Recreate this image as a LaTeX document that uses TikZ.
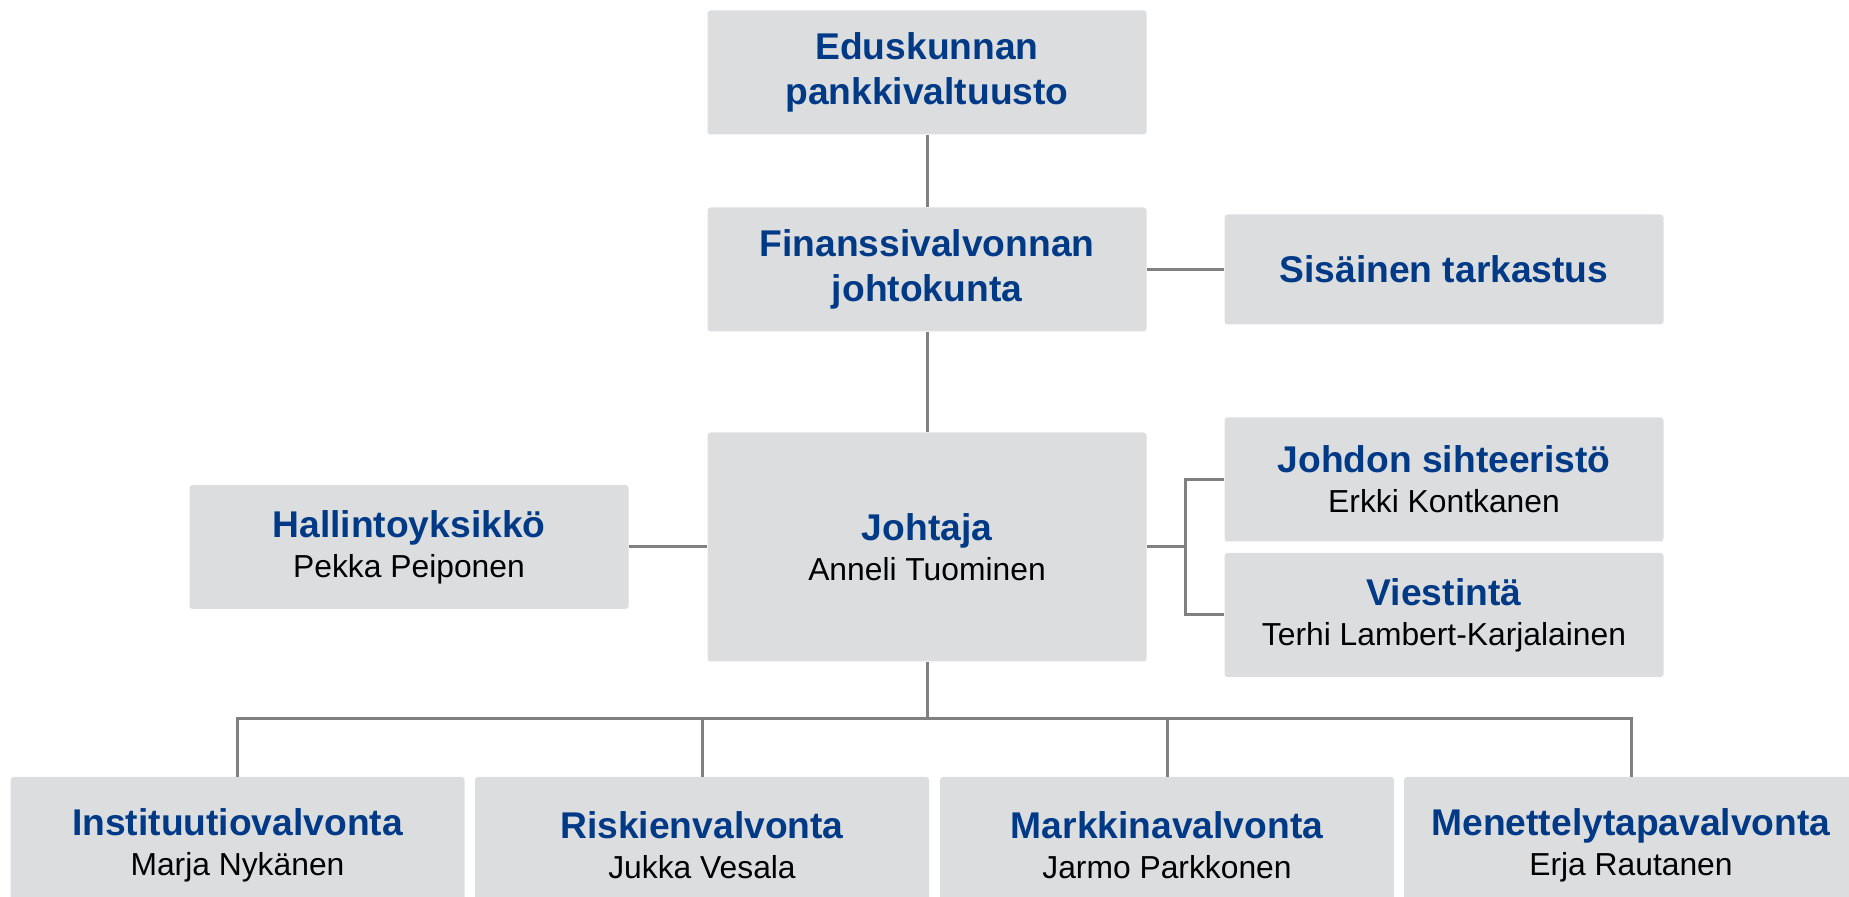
\documentclass[tikz,border=0pt]{standalone}
\usepackage{fontspec}
\setmainfont{Liberation Sans}
\definecolor{fiblue}{RGB}{0,58,135}
\definecolor{boxgray}{RGB}{220,221,223}
\definecolor{linegray}{RGB}{128,128,128}
\newcommand\orgtitle[1]{{\fontsize{18.6}{20}\selectfont\bfseries\color{fiblue}#1}}
\begin{document}
\begin{tikzpicture}[x=0.5pt,y=-0.5pt,
  orgbox/.style={fill=boxgray, rounded corners=1.5pt, inner sep=0pt, align=center,
    minimum width=219.5pt, minimum height=62pt, font=\fontsize{15.9}{20}\selectfont},
  twotitle/.style={orgbox, font=\fontsize{15.9}{22.2}\selectfont},
  wideorg/.style={orgbox, minimum width=227pt, minimum height=68pt},
  conn/.style={draw=linegray, line width=1.5pt}]
\useasboundingbox (0,0) rectangle (1849,897);
\clip (0,0) rectangle (1849,897);

\node[twotitle] (edus) at (927,72.5) {\orgtitle{Eduskunnan}\\\orgtitle{pankkivaltuusto}};
\node[twotitle] (fin) at (927,269.5) {\orgtitle{Finanssivalvonnan}\\\orgtitle{johtokunta}};
\node[orgbox, minimum height=55pt] (sis) at (1444,269.5) {\orgtitle{Sisäinen tarkastus}};
\node[orgbox] (hal) at (409,547) {\orgtitle{Hallintoyksikkö}\\Pekka Peiponen};
\node[orgbox, minimum height=114.5pt] (joh) at (927,547) {\orgtitle{Johtaja}\\Anneli Tuominen};
\node[orgbox] (sih) at (1444,479.5) {\orgtitle{Johdon sihteeristö}\\Erkki Kontkanen};
\node[orgbox] (vie) at (1444,615) {\orgtitle{Viestintä}\\Terhi Lambert-Karjalainen};

\node[wideorg] (b1) at (237.5,845) {\orgtitle{Instituutiovalvonta}\\Marja Nykänen};
\node[wideorg] (b2) at (702,845) {\orgtitle{Riskienvalvonta}\\Jukka Vesala};
\node[wideorg] (b3) at (1167,845) {\orgtitle{Markkinavalvonta}\\Jarmo Parkkonen};
\node[wideorg] (b4) at (1631,845) {\orgtitle{Menettelytapavalvonta}\\Erja Rautanen};

\coordinate (brk) at (1185,547);
\coordinate (bus) at (927,719);

\draw[conn] (edus) -- (fin);
\draw[conn] (fin) -- (sis);
\draw[conn] (fin) -- (joh);
\draw[conn] (hal) -- (joh);
\draw[conn] (joh.east) -- (brk);
\draw[conn] (sih.west) -| (brk) |- (vie.west);
\draw[conn] (joh.south) -- (bus);
\draw[conn] (b1.north) |- (bus) -| (b4.north);
\draw[conn] (b2.north) -- (b2.north |- bus);
\draw[conn] (b3.north) -- (b3.north |- bus);
\end{tikzpicture}
\end{document}
